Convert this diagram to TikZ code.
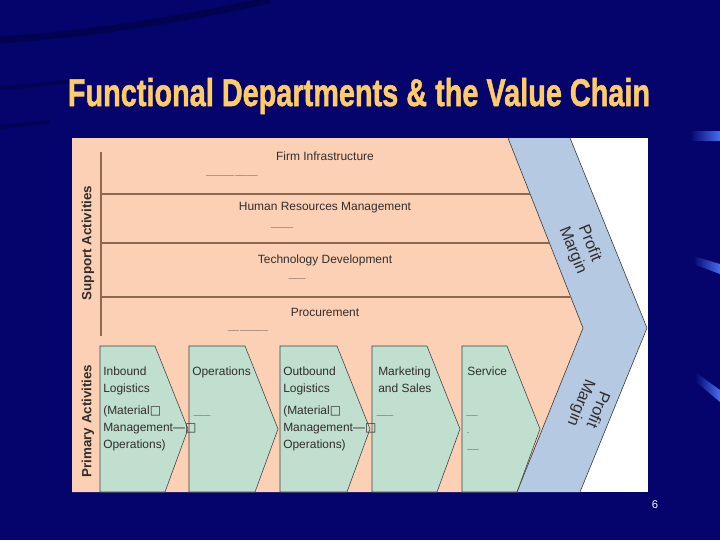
\documentclass[tikz,border=0pt]{standalone}
\usepackage{fontspec}
\usepackage{graphicx}
\setmainfont{Liberation Sans}
\newfontfamily\boxfont{DejaVu Sans}
\newfontfamily\titlefont[FakeBold=1.5]{Liberation Sans Bold}
\definecolor{navy}{RGB}{4,4,108}
\definecolor{peach}{RGB}{252,208,180}
\definecolor{marginblue}{RGB}{182,201,226}
\definecolor{primarygreen}{RGB}{192,223,207}
\definecolor{rulebrown}{RGB}{140,104,80}
\definecolor{titlegold}{RGB}{255,204,102}
\definecolor{ink}{RGB}{50,45,45}
\definecolor{streak}{RGB}{70,110,240}
\begin{document}
\begin{tikzpicture}[x=0.025cm,y=-0.025cm,node distance=1.3cm,
    support node/.style={font=\fontsize{8.5}{10}\selectfont,text=ink},
    primary node/.style={anchor=north west,inner sep=0pt,align=left,font=\fontsize{8.5}{12}\selectfont,text=ink},
    side label/.style={rotate=90,font=\bfseries\fontsize{9.5}{10}\selectfont,text=ink},
    margin node/.style={align=center,font=\fontsize{11.5}{13}\selectfont,text=ink},
    garble/.style={inner sep=0pt,font=\fontsize{4}{4}\selectfont,text=ink},
    primary box/.style={fill=primarygreen,draw=black!75,line width=0.4pt}]
    \useasboundingbox (0,0) rectangle (720,540);
    \fill[navy] (0,0) rectangle (720,540);
    % background streaks
    \draw[line width=5pt,black,opacity=.25] (0,40) .. controls (90,34) and (180,20) .. (270,0);
    \draw[line width=3pt,black,opacity=.2] (0,88) .. controls (30,86) .. (80,80);
    \draw[line width=3pt,black,opacity=.2] (0,127) .. controls (20,125) .. (50,122);
    \shade[left color=navy,right color=streak] (690,131) rectangle (720,140);
    \shade[left color=navy,right color=streak] (693,256) -- (720,264) -- (720,274) -- (693,264) -- cycle;
    \shade[left color=navy,right color=streak] (695,372) -- (720,390) -- (720,402) -- (695,381) -- cycle;

    % value chain
    \fill[white] (72,138) rectangle (648,492);
    \fill[peach] (72,138) -- (508,138) -- (583,328) -- (517,492) -- (72,492) -- cycle;
    \fill[marginblue] (508,138) -- (570,138) -- (647,328) -- (580,492) -- (517,492) -- (583,328) -- cycle;
    \draw[black!80,line width=0.4pt] (508,138) -- (583,328) -- (517,492);
    \draw[black!80,line width=0.4pt] (570,138) -- (647,328) -- (580,492);

    % support activities
    \draw[rulebrown,line width=1pt] (101,152) -- (101,336);
    \draw[rulebrown,line width=1pt] (101,194) -- (530,194);
    \draw[rulebrown,line width=1pt] (101,243) -- (549,243);
    \draw[rulebrown,line width=1pt] (101,297) -- (571,297);
    \node[support node] (1) at (325,156) {Firm Infrastructure};
    \node[support node] (2) [below of=1] {Human Resources Management};
    \node[support node] (3) [below of=2] {Technology Development};
    \node[support node] (4) [below of=3] {Procurement};
    \node[garble] (g1) at (232,177) {—————\,————};
    \node[garble] (g2) at (282,229) {————};
    \node[garble] (g3) at (297,280) {———};
    \node[garble] (g4) at (248,332) {——\,—————};

    % primary activities
    \foreach \l/\w in {100/55,189/56,280/57,372/55,462/45}
      \filldraw[primary box] (\l,346) -- (\l+\w,346) -- (\l+\w+33,429) -- (\l+\w+10,492) -- (\l,492) -- cycle;
    \node[primary node] (5) at (103,367) {Inbound\\Logistics\\[3.5pt](Material{\boxfont □}\\Management—{\boxfont □}\\Operations)};
    \node[primary node] (6) at (192,367) {Operations};
    \node[primary node] (7) at (283,367) {Outbound\\Logistics\\[3.5pt](Material{\boxfont □}\\Management—{\boxfont □}\\Operations)};
    \node[primary node] (8) at (378,367) {Marketing\\and Sales};
    \node[primary node] (9) at (467,367) {Service};
    \node[garble] (g5) at (202,417) {———};
    \node[garble] (g6) at (385,417) {———};
    \node[garble] (g7) at (472,417) {——};
    \node[garble] (g8) at (468,434) {-};
    \node[garble] (g9) at (473,451) {——};

    \node[side label] (10) at (88,243) {Support Activities};
    \node[side label] (11) at (88,421) {Primary Activities};
    \node[margin node,rotate=-68] (12) at (581,247) {Profit\\Margin};
    \node[margin node,rotate=-112] (13) at (589,406) {Profit\\Margin};

    \node[text=titlegold,anchor=base] (0) at (359,106) {\resizebox{14.55cm}{0.7cm}{\titlefont Functional Departments \& the Value Chain}};
    \node[text=white,font=\fontsize{8}{8}\selectfont] (14) at (655,505) {6};
\end{tikzpicture}
\end{document}
